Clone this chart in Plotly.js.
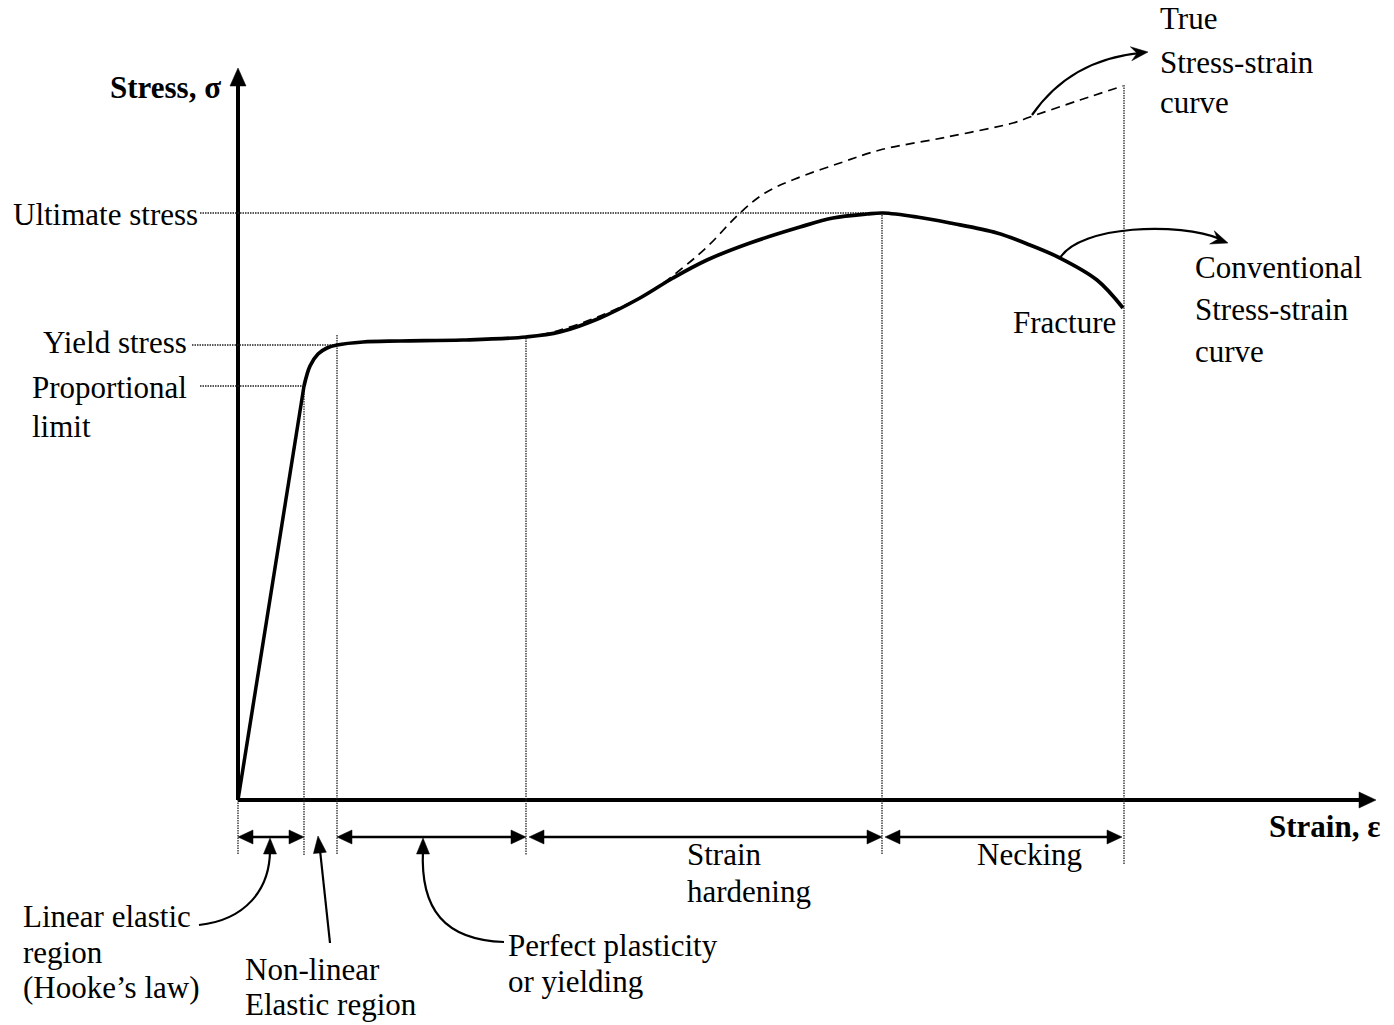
<!DOCTYPE html>
<html><head><meta charset="utf-8">
<script src="https://cdn.plot.ly/plotly-3.0.1.min.js"></script>
<style>html,body{margin:0;padding:0;background:#fff;}#chart{width:1394px;height:1025px;}</style>
</head><body><div id="chart"></div>
<script>
// ---- data (strain, stress) in drawing units, origin at the axes corner ----
const convStrain = [0,66,72,80,89,99,125,162,225,288,322,362,402,435,469,512,562,595,629,645,679,712,759,792,822,859,885];
const convStress = [0,414,434,446,452,455,458,459,460,463,468,482,502,522,540,557,573,582,586,587,583,577,567,555,542,520,492];
const trueStrain = [302,319,362,412,442,469,502,527,557,602,642,709,775,792,842,885];
const trueStress = [465,469,484,508,530,553,587,607,621,637,650,663,677,683,700,714];
const regionBounds = [0,66,99,288,644,886];
const regionTops = [0,414,465,462,585,715];
const stressLevelNames = [['Ultimate stress'],['Yield stress'],['Proportional','limit']];
const stressLevels = [587,455,414];
const stressLevelStrain = [644,99,66];
const regionLabelLines = [['Linear elastic','region','(Hooke\u2019s law)'],['Non-linear','Elastic region'],['Perfect plasticity','or yielding'],['Strain','hardening'],['Necking']];
const curveLabelLines = [['True','Stress-strain','curve'],['Conventional','Stress-strain','curve']];
const axisTitles = ['Strain, \u03b5','Stress, \u03c3'];

// ---- helpers: picture pixel -> drawing units (for decorations only) ----
const X = px => px - 238;
const Y = py => 800 - py;
const FONT = 'Liberation Serif, Times New Roman, serif';

function head(tx, ty, dx, dy, len, hw, notch) {
  const n = Math.hypot(dx, dy), ux = dx / n, uy = dy / n;
  const bx = tx - ux * len, by = ty - uy * len;
  const px = -uy, py = ux;
  const lx = bx + px * hw, ly = by + py * hw;
  const rx = bx - px * hw, ry = by - py * hw;
  const nx = bx + ux * len * notch, ny = by + uy * len * notch;
  return {type:'path', xref:'x', yref:'y', layer:'above',
    path:`M${tx},${ty} L${lx},${ly} L${nx},${ny} L${rx},${ry} Z`,
    fillcolor:'#000', line:{color:'#000', width:0.5}};
}
function seg(x0,y0,x1,y1,w,dash,color){
  return {type:'line', xref:'x', yref:'y', x0, y0, x1, y1, layer:'below',
    line:{color:color||'#000', width:w, dash:dash||'solid'}};
}
function curvePath(d, w){
  return {type:'path', xref:'x', yref:'y', path:d, line:{color:'#000', width:w}, fillcolor:'rgba(0,0,0,0)'};
}

const shapes = [];
// axes
shapes.push(seg(0,0,0,Y(84),4));
shapes.push(head(0,Y(68),0,1,18,8,0));
shapes.push(seg(0,0,X(1360),0,4));
shapes.push(head(X(1376),0,1,0,17,8,0));

// dotted region boundaries
regionBounds.forEach((b,i)=>{
  const bottom = i === regionBounds.length-1 ? Y(865) : Y(855);
  shapes.push(seg(b, regionTops[i], b, bottom, 1.3, '1.5px,1px', '#222'));
});
// dotted stress levels
const levelStart = [X(200), X(192), X(200)];
stressLevels.forEach((s,i)=>{
  shapes.push(seg(levelStart[i], s, stressLevelStrain[i], s, 1.4, '1.5px,1px', '#222'));
});

// double arrows for regions (skip the narrow non-linear region)
const ay = Y(837);
[[0,1],[2,3],[3,4],[4,5]].forEach(([a,b])=>{
  const x0 = regionBounds[a] + (a===3||a===4 ? 3 : 0);
  const x1 = regionBounds[b] - (b===5 ? 2 : 0);
  shapes.push(seg(x0+10, ay, x1-10, ay, 2.5));
  shapes.push(head(x0, ay, -1, 0, 15, 7, 0));
  shapes.push(head(x1, ay, 1, 0, 15, 7, 0));
});

// pointer arrows
shapes.push(curvePath(`M${X(1032)},${Y(115)} Q${X(1070)},${Y(60)} ${X(1140)},${Y(53)}`, 2.2));
shapes.push(head(X(1148),Y(52),77,8,17,7,0.35));
shapes.push(curvePath(`M${X(1060)},${Y(258)} C${X(1080)},${Y(225)} ${X(1180)},${Y(222)} ${X(1220)},${Y(239)}`, 2.2));
shapes.push(head(X(1228),Y(243),40,-14,17,7,0.35));
shapes.push(curvePath(`M${X(199)},${Y(925)} C${X(245)},${Y(920)} ${X(270)},${Y(890)} ${X(270)},${Y(850)}`, 2.2));
shapes.push(head(X(270),Y(838),0,1,16,6.5,0));
shapes.push(seg(X(330),Y(943),X(320),Y(850),2.2));
shapes.push(head(X(318),Y(836),-12,106,17,6.5,0));
shapes.push(curvePath(`M${X(504)},${Y(942)} C${X(445)},${Y(940)} ${X(420)},${Y(910)} ${X(423)},${Y(850)}`, 2.2));
shapes.push(head(X(423),Y(838),0,1,16,6.5,0));

// ---- text ----
const annotations = [];
function txt(t, xpx, base, anchor, size, bold){
  annotations.push({x:X(xpx), y:Y(base - 0.3375*size), xref:'x', yref:'y',
    text: bold ? '<b>'+t+'</b>' : t, showarrow:false, xanchor:anchor, yanchor:'middle',
    borderpad:0, font:{family:FONT, size:size, color:'#000'}});
}
const FS = 31;
txt(axisTitles[1], 222, 98, 'right', 31, true);
txt(axisTitles[0], 1381, 837, 'right', 31, true);
txt(stressLevelNames[0][0], 199, 225, 'right', FS);
txt(stressLevelNames[1][0], 188, 353, 'right', FS);
txt(stressLevelNames[2][0], 31, 398, 'left', FS);
txt(stressLevelNames[2][1], 31, 437, 'left', FS);
const trueBase = [29,73,113];
curveLabelLines[0].forEach((l,i)=>txt(l,1159,trueBase[i],'left',FS));
const convBase = [278,320,362];
curveLabelLines[1].forEach((l,i)=>txt(l,1194,convBase[i],'left',FS));
txt('Fracture', 1117, 333, 'right', FS);
const regLeft = [22,244,507,686,976];
const regBase = [[927,963,998],[980,1015],[956,992],[865,902],[865]];
regionLabelLines.forEach((lines,r)=>lines.forEach((l,i)=>txt(l,regLeft[r],regBase[r][i],'left',FS)));

// ---- traces ----
const traces = [
  {x:convStrain.slice(0,2), y:convStress.slice(0,2), mode:'lines', line:{color:'#000', width:3.5}, hoverinfo:'skip'},
  {x:convStrain.slice(1), y:convStress.slice(1), mode:'lines', line:{color:'#000', width:3.7, shape:'spline', smoothing:1}, hoverinfo:'skip'},
  {x:trueStrain, y:trueStress, mode:'lines', line:{color:'#000', width:1.7, dash:'9px,6px', shape:'spline', smoothing:1}, hoverinfo:'skip'}
];

const layout = {
  width:1394, height:1025, autosize:false,
  margin:{l:0,r:0,t:0,b:0,pad:0},
  paper_bgcolor:'#fff', plot_bgcolor:'#fff',
  showlegend:false, hovermode:false,
  xaxis:{range:[-238,1156], visible:false, fixedrange:true},
  yaxis:{range:[-225,800], visible:false, fixedrange:true},
  shapes, annotations
};
Plotly.newPlot('chart', traces, layout, {displayModeBar:false, staticPlot:true});
</script></body></html>
